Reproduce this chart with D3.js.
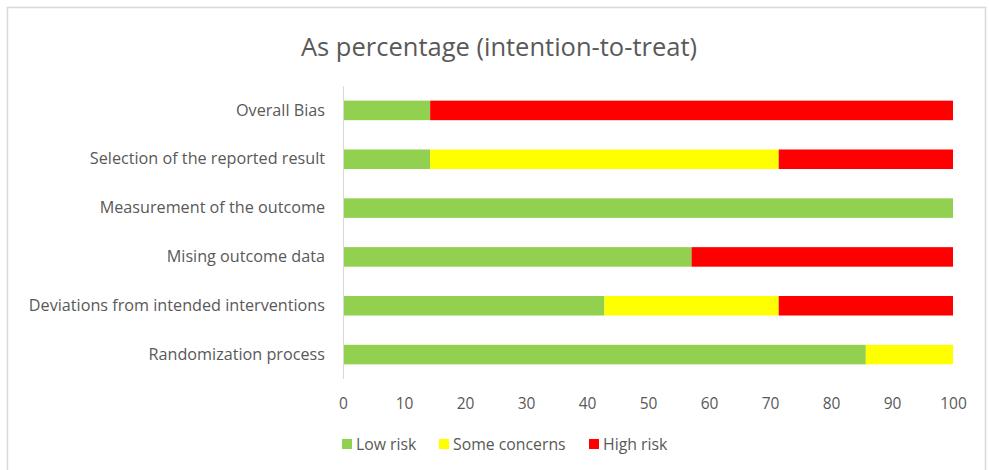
<!DOCTYPE html>
<html><head><meta charset="utf-8">
<script src="https://cdn.jsdelivr.net/npm/d3@7"></script>
<style>body{margin:0;background:#fff;}svg{display:block;font-family:"Open Sans", sans-serif;}</style>
</head><body>
<svg id="c" width="989" height="470"></svg>
<script>
const categories = ["Overall Bias","Selection of the reported result","Measurement of the outcome","Mising outcome data","Deviations from intended interventions","Randomization process"];
const seriesNames = ["Low risk","Some concerns","High risk"];
const lowRisk = [14.29, 14.29, 100, 57.14, 42.86, 85.71];
const someConcerns = [0, 57.14, 0, 0, 28.57, 14.29];
const highRisk = [85.71, 28.57, 0, 42.86, 28.57, 0];
const xTicks = [0,10,20,30,40,50,60,70,80,90,100];
const colors = ["#92D050","#FFFF00","#FF0000"];
const FONT = "'Open Sans', sans-serif";

const svg = d3.select("#c");
svg.append("rect").attr("x",7.5).attr("y",7.5).attr("width",978).attr("height",470).attr("fill","#fff").attr("stroke","#d9d9d9").attr("stroke-width",1.5);

svg.append("text").attr("x",499).attr("y",56).attr("text-anchor","middle")
  .attr("font-size",25.5).attr("fill","#595959").attr("font-family",FONT).text("As percentage (intention-to-treat)");

const x = d3.scaleLinear().domain([0,100]).range([343,953]);
const y = d3.scaleBand().domain(categories).range([86,379]).paddingInner(0.6).paddingOuter(0.3);

const stackData = categories.map((c,i)=>({cat:c,"Low risk":lowRisk[i],"Some concerns":someConcerns[i],"High risk":highRisk[i]}));
const stacked = d3.stack().keys(seriesNames)(stackData);

svg.append("g").selectAll("g").data(stacked).join("g")
  .attr("fill",(d,i)=>colors[i])
  .selectAll("rect").data(d=>d).join("rect")
  .attr("x",d=>x(d[0])).attr("width",d=>Math.max(0,x(d[1])-x(d[0])))
  .attr("y",d=>y(d.data.cat)).attr("height",y.bandwidth());

svg.append("line").attr("x1",343.5).attr("x2",343.5).attr("y1",86).attr("y2",379).attr("stroke","#d9d9d9").attr("stroke-width",1);

const ya = svg.append("g").attr("transform","translate(343,0)").call(d3.axisLeft(y).tickSize(0).tickPadding(18));
ya.select(".domain").remove();
ya.selectAll("text").attr("font-size",16.2).attr("fill","#595959").attr("font-family",FONT);

const xa = svg.append("g").attr("transform","translate(0,379)").call(d3.axisBottom(x).tickValues(xTicks).tickSize(0).tickPadding(19));
xa.select(".domain").remove();
xa.selectAll("text").attr("font-size",15.5).attr("fill","#595959").attr("font-family",FONT);

const legX = [342, 439, 589];
const lg = svg.append("g").selectAll("g").data(seriesNames).join("g")
  .attr("transform",(d,i)=>`translate(${legX[i]},439)`);
lg.append("rect").attr("width",10).attr("height",10).attr("fill",(d,i)=>colors[i]);
lg.append("text").attr("x",14).attr("y",11).attr("font-size",15.8).attr("fill","#595959").attr("font-family",FONT).text(d=>d);
</script>
</body></html>
